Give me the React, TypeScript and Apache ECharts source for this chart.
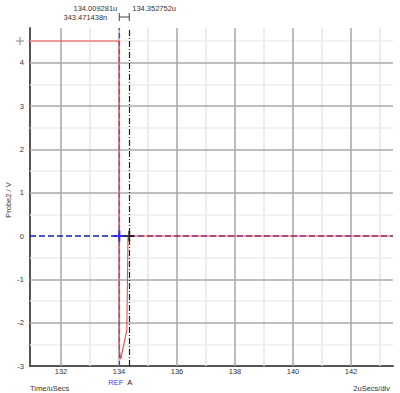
import React, { useEffect, useRef } from "react";
import * as echarts from "echarts";

// ---- data ----
const timeUs = [130.93, 134.0, 134.004, 134.06, 134.27, 134.31, 134.36, 143.45];
const probe2V = [4.5, 4.5, -2.6, -2.84, -2.17, 0, 0, 0];

const xTickLabels = [132, 134, 136, 138, 140, 142];
const xMajorGrid = [132, 134, 136, 138, 140, 142];
const xMinorGrid = [133, 135, 137, 139, 141, 143];
const yTickLabels = [-3, -2, -1, 0, 1, 2, 3, 4];
const yMajorGrid = [-2, -1, 1, 2, 3, 4];
const yMinorGrid = [-2.5, -1.5, -0.5, 0.5, 1.5, 2.5, 3.5, 4.5];

const cursorRef = 134.009281;
const cursorA = 134.352752;
const cursorRefText = "134.009281u";
const cursorAText = "134.352752u";
const deltaText = "343.471438n";
const startLevel = 4.5;

const FONT = "Liberation Sans, Arial, sans-serif";

export default function App() {
  const ref = useRef<HTMLDivElement>(null);

  useEffect(() => {
    if (!ref.current) return;
    const chart = echarts.init(ref.current, null, { renderer: "svg" });

    const plus =
      "path://M4,0 L6,0 L6,4 L10,4 L10,6 L6,6 L6,10 L4,10 L4,6 L0,6 L0,4 L4,4 Z";

    const option: any = {
      animation: false,
      backgroundColor: "#ffffff",
      grid: { left: 30, right: 7, top: 28, bottom: 27, containLabel: false },
      xAxis: {
        type: "value",
        min: 130.93,
        max: 143.45,
        splitLine: { show: false },
        axisTick: { show: false },
        axisLine: { show: true, onZero: false, lineStyle: { color: "#555", width: 2 } },
        axisLabel: {
          customValues: xTickLabels,
          color: "#333",
          fontSize: 7.5,
          fontFamily: FONT,
          margin: 1,
        },
      },
      yAxis: {
        type: "value",
        min: -3,
        max: 4.8,
        splitLine: { show: false },
        axisTick: { show: false },
        axisLine: { show: true, onZero: false, lineStyle: { color: "#555", width: 2 } },
        axisLabel: {
          customValues: yTickLabels,
          color: "#333",
          fontSize: 7.5,
          fontFamily: FONT,
          margin: 6,
        },
      },
      series: [
        {
          type: "line",
          data: [],
          silent: true,
          z: 0,
          markLine: {
            silent: true,
            symbol: "none",
            animation: false,
            label: { show: false },
            data: [
              ...xMinorGrid.map((v) => ({ xAxis: v, lineStyle: { color: "#e6e6e6", width: 1.5, type: "solid" } })),
              ...yMinorGrid.map((v) => ({ yAxis: v, lineStyle: { color: "#ececec", width: 1.5, type: "solid" } })),
              ...xMajorGrid.map((v) => ({ xAxis: v, lineStyle: { color: "#a6a6a6", width: 1.5, type: "solid" } })),
              ...yMajorGrid.map((v) => ({ yAxis: v, lineStyle: { color: "#aaaaaa", width: 1.5, type: "solid" } })),
            ],
          },
        },
        {
          type: "line",
          data: timeUs.map((t, i) => [t, probe2V[i]]),
          showSymbol: false,
          z: 10,
          lineStyle: { color: "#f04848", width: 1.1 },
        },
        {
          type: "line",
          data: [],
          z: 11,
          markLine: {
            silent: true,
            symbol: "none",
            label: { show: false },
            data: [
              { yAxis: 0, lineStyle: { color: "#1c1cb0", width: 1.5, type: [6, 3] } },
              { xAxis: cursorRef, lineStyle: { color: "#3c3cff", width: 1.2, type: [5, 3] } },
              { xAxis: cursorA, lineStyle: { color: "#222222", width: 1.2, type: [6, 2, 1, 2] } },
            ],
          },
        },
        {
          type: "scatter",
          z: 12,
          symbol: plus,
          symbolSize: 11,
          itemStyle: { color: "#1f1fff" },
          data: [[cursorRef, 0]],
        },
        {
          type: "scatter",
          z: 12,
          symbol: plus,
          symbolSize: 10,
          itemStyle: { color: "#111111" },
          data: [[cursorA, 0]],
        },
      ],
    };
    chart.setOption(option);

    const pRef = chart.convertToPixel({ gridIndex: 0 }, [cursorRef, 0]);
    const pA = chart.convertToPixel({ gridIndex: 0 }, [cursorA, 0]);
    const pStart = chart.convertToPixel({ gridIndex: 0 }, [130.93, startLevel]);
    const gray = "#888";
    const txt = (x: number, y: number, text: string, align: string, color = "#333") => ({
      type: "text",
      x,
      y,
      silent: true,
      style: { text, fill: color, fontSize: 7.5, fontFamily: FONT, align, verticalAlign: "middle" },
    });

    chart.setOption({
      graphic: [
        txt(pRef[0] - 2, 8, cursorRefText, "right"),
        txt(pA[0] + 3, 8, cursorAText, "left"),
        txt(pRef[0] - 12, 17, deltaText, "right"),
        { type: "line", silent: true, shape: { x1: pRef[0], y1: 17, x2: pA[0], y2: 17 }, style: { stroke: "#444", lineWidth: 1 } },
        { type: "line", silent: true, shape: { x1: pRef[0], y1: 13, x2: pRef[0], y2: 21 }, style: { stroke: "#444", lineWidth: 1 } },
        { type: "line", silent: true, shape: { x1: pA[0], y1: 13, x2: pA[0], y2: 21 }, style: { stroke: "#444", lineWidth: 1 } },
        { type: "line", silent: true, shape: { x1: pStart[0] - 14, y1: pStart[1], x2: pStart[0] - 6, y2: pStart[1] }, style: { stroke: gray, lineWidth: 1 } },
        { type: "line", silent: true, shape: { x1: pStart[0] - 10, y1: pStart[1] - 4, x2: pStart[0] - 10, y2: pStart[1] + 4 }, style: { stroke: gray, lineWidth: 1 } },
        txt(pRef[0] + 4, 382, "REF", "right", "#3c3cff"),
        txt(pA[0] - 2, 382, "A", "left", "#222"),
        txt(30, 388, "Time/uSecs", "left"),
        txt(390, 388, "2uSecs/div", "right"),
        {
          type: "text",
          x: 8,
          y: 200,
          rotation: Math.PI / 2,
          silent: true,
          style: { text: "Probe2 / V", fill: "#333", fontSize: 7.5, fontFamily: FONT, align: "center", verticalAlign: "middle" },
        },
      ],
    });

    return () => chart.dispose();
  }, []);

  return <div ref={ref} style={{ width: 400, height: 393, position: "absolute", left: 0, top: 0 }} />;
}
